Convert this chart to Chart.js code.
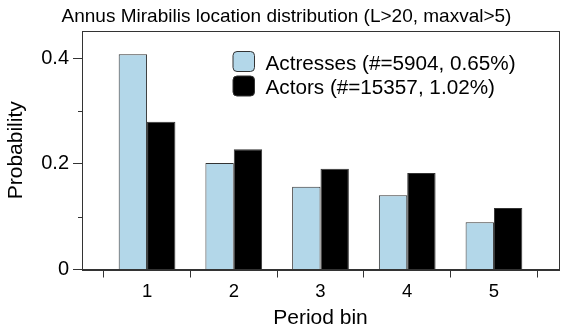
<!DOCTYPE html>
<html>
<head>
<meta charset="utf-8">
<style>
  html, body { margin: 0; padding: 0; background: #ffffff; }
  #wrap { width: 586px; height: 335px; position: relative; }
</style>
<script src="https://cdn.jsdelivr.net/npm/chart.js@4/dist/chart.umd.min.js"></script>
</head>
<body>
<div id="wrap"><canvas id="c" width="586" height="335"></canvas></div>
<script>
// ---- data ----
const bins = [1, 2, 3, 4, 5];
const actresses = [0.408, 0.202, 0.157, 0.1405, 0.0895];
const actors = [0.280, 0.228, 0.191, 0.183, 0.1165];
const seriesLabels = ['Actresses (#=5904, 0.65%)', 'Actors (#=15357, 1.02%)'];
const titleText = 'Annus Mirabilis location distribution (L>20, maxval>5)';
const xTitle = 'Period bin';
const yTitle = 'Probability';
const yTickValues = [0, 0.1, 0.2, 0.3, 0.4];
const yTickLabels = ['0', '', '0.2', '', '0.4'];

const FONT = "'Liberation Sans', Arial, Helvetica, sans-serif";
const AXIS = '#333333';
const BLUE = '#b3d7e9';

const toPoints = (vals) => bins.map((b, i) => ({ x: b, y: vals[i] }));

const framePlugin = {
  id: 'frame',
  afterDatasetsDraw(chart) {
    const { ctx, chartArea: a, scales } = chart;
    ctx.save();
    // frame
    ctx.strokeStyle = AXIS;
    ctx.lineWidth = 1;
    ctx.strokeRect(Math.round(a.left) + 0.5, Math.round(a.top) + 0.5,
                   Math.round(a.right) - Math.round(a.left), Math.round(a.bottom) - Math.round(a.top));
    // minor y ticks
    const ys = scales.y;
    yTickValues.forEach((v, i) => {
      if (yTickLabels[i] === '') {
        const py = Math.round(ys.getPixelForValue(v)) + 0.5;
        ctx.beginPath();
        ctx.moveTo(Math.round(a.left) - 4, py);
        ctx.lineTo(Math.round(a.left), py);
        ctx.stroke();
      }
    });
    // title
    ctx.fillStyle = '#000';
    ctx.font = '19px ' + FONT;
    ctx.textAlign = 'center';
    ctx.textBaseline = 'alphabetic';
    ctx.fillText(titleText, 286.5, 22);
    // legend
    const colors = [BLUE, '#000000'];
    ctx.font = '20.7px ' + FONT;
    ctx.textAlign = 'left';
    seriesLabels.forEach((lab, i) => {
      const by = 51.5 + i * 24.5;
      ctx.beginPath();
      ctx.roundRect(233, by, 21.5, 20, 4);
      ctx.fillStyle = colors[i];
      ctx.fill();
      ctx.strokeStyle = AXIS;
      ctx.lineWidth = 1;
      ctx.stroke();
      ctx.fillStyle = '#000';
      ctx.fillText(lab, 265.5, 69.5 + i * 24);
    });
    ctx.restore();
  }
};

new Chart(document.getElementById('c'), {
  type: 'bar',
  data: {
    datasets: [
      { label: seriesLabels[0], data: toPoints(actresses), backgroundColor: BLUE,
        borderColor: AXIS, borderWidth: 1 },
      { label: seriesLabels[1], data: toPoints(actors), backgroundColor: '#000000',
        borderColor: AXIS, borderWidth: 1 }
    ]
  },
  options: {
    responsive: false,
    animation: false,
    devicePixelRatio: 1,
    categoryPercentage: 0.654,
    barPercentage: 1.0,
    layout: { padding: { left: 0, right: 27, top: 31, bottom: 0 } },
    plugins: {
      legend: { display: false },
      title: { display: false },
      tooltip: { enabled: false }
    },
    scales: {
      x: {
        type: 'linear',
        min: 0.25,
        max: 5.75,
        offset: false,
        afterBuildTicks: (s) => { s.ticks = bins.map(v => ({ value: v })); },
        afterFit: (s) => { s.height = 65.5; },
        grid: { offset: true, drawOnChartArea: false, tickLength: 8, color: AXIS, tickColor: AXIS },
        border: { display: true, color: AXIS, width: 1 },
        ticks: { color: '#000', padding: 3, font: { size: 18.5, family: FONT },
                 callback: (v) => String(v), maxRotation: 0, autoSkip: false },
        title: { display: true, text: xTitle, color: '#000', font: { size: 21, family: FONT },
                 padding: { top: 0, bottom: 4.4 } }
      },
      y: {
        min: 0,
        max: 0.452,
        afterBuildTicks: (s) => { s.ticks = yTickValues.map(v => ({ value: v })); },
        afterFit: (s) => { s.width = 82; },
        grid: { drawOnChartArea: false, tickLength: 9,
                tickColor: (c) => (c.tick && yTickLabels[yTickValues.indexOf(c.tick.value)] !== '') ? AXIS : 'rgba(0,0,0,0)',
                color: AXIS },
        border: { display: true, color: AXIS, width: 1 },
        ticks: { color: '#000', padding: 4, font: { size: 20, family: FONT },
                 callback: (v, i) => yTickLabels[i] },
        title: { display: true, text: yTitle, color: '#000', font: { size: 21, family: FONT },
                 padding: { top: 4, bottom: 0 } }
      }
    }
  },
  plugins: [framePlugin]
});
</script>
</body>
</html>
